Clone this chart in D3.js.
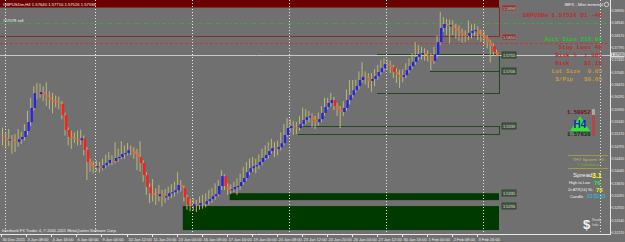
<!DOCTYPE html>
<html>
<head>
<meta charset="utf-8">
<script src="https://cdn.jsdelivr.net/npm/d3@7"></script>
<style>
html, body { margin: 0; padding: 0; background: #707070; overflow: hidden; }
svg { display: block; }
text { font-family: "Liberation Sans", Arial, sans-serif; }
.mono { font-family: "Liberation Mono", "DejaVu Sans Mono", monospace; font-weight: bold; }
</style>
</head>
<body>
<div id="chart"></div>
<script>
// GBPUSD H4 bars, 30 Dec 2011 .. 6 Feb 2012 (open = previous close)
const firstOpen = 1.5506;
const closes = [
  1.5502,1.5496,1.5499,1.5493,1.5491,1.5499,1.5506,1.5524,1.5551,1.5594,
  1.5639,1.5636,1.5642,1.5633,1.5627,1.5618,1.5615,1.5612,1.5606,1.5572,
  1.5527,1.5506,1.5502,1.5499,1.5496,1.5502,1.5466,1.5430,1.5420,1.5414,
  1.5417,1.5411,1.5420,1.5427,1.5436,1.5433,1.5442,1.5445,1.5454,1.5457,
  1.5466,1.5463,1.5454,1.5445,1.5427,1.5390,1.5354,1.5335,1.5329,1.5326,
  1.5332,1.5323,1.5326,1.5335,1.5338,1.5344,1.5360,1.5351,1.5323,1.5299,
  1.5296,1.5302,1.5299,1.5305,1.5302,1.5311,1.5317,1.5326,1.5332,1.5357,
  1.5387,1.5357,1.5344,1.5347,1.5354,1.5357,1.5369,1.5381,1.5399,1.5411,
  1.5417,1.5420,1.5430,1.5442,1.5451,1.5463,1.5472,1.5469,1.5475,1.5487,
  1.5512,1.5533,1.5539,1.5536,1.5533,1.5545,1.5557,1.5566,1.5569,1.5557,
  1.5551,1.5560,1.5579,1.5597,1.5609,1.5618,1.5600,1.5588,1.5582,1.5594,
  1.5618,1.5633,1.5648,1.5661,1.5679,1.5688,1.5685,1.5676,1.5682,1.5691,
  1.5703,1.5715,1.5727,1.5725,1.5718,1.5703,1.5694,1.5688,1.5694,1.5709,
  1.5721,1.5734,1.5749,1.5758,1.5761,1.5755,1.5752,1.5737,1.5755,1.5794,
  1.5837,1.5849,1.5843,1.5846,1.5837,1.5828,1.5822,1.5816,1.5813,1.5822,
  1.5828,1.5831,1.5819,1.5813,1.5806,1.5794,1.5782,1.5764,1.57536
];
const highs = [
  1.5534,1.5520,1.5530,1.5512,1.5515,1.5530,1.5522,1.5545,1.5585,1.5625,
  1.5660,1.5670,1.5668,1.5660,1.5672,1.5645,1.5640,1.5632,1.5628,1.5615,
  1.5580,1.5535,1.5525,1.5520,1.5525,1.5528,1.5510,1.5475,1.5440,1.5432,
  1.5435,1.5430,1.5440,1.5452,1.5460,1.5450,1.5490,1.5470,1.5493,1.5480,
  1.5488,1.5480,1.5475,1.5470,1.5493,1.5435,1.5400,1.5365,1.5378,1.5350,
  1.5360,1.5345,1.5348,1.5355,1.5362,1.5370,1.5399,1.5375,1.5358,1.5330,
  1.5318,1.5320,1.5315,1.5325,1.5330,1.5335,1.5345,1.5350,1.5365,1.5375,
  1.5405,1.5392,1.5365,1.5362,1.5370,1.5380,1.5395,1.5415,1.5430,1.5440,
  1.5445,1.5440,1.5452,1.5470,1.5480,1.5490,1.5500,1.5490,1.5495,1.5520,
  1.5545,1.5563,1.5560,1.5555,1.5552,1.5570,1.5595,1.5590,1.5585,1.5578,
  1.5570,1.5580,1.5600,1.5625,1.5625,1.5640,1.5628,1.5610,1.5600,1.5615,
  1.5650,1.5679,1.5679,1.5680,1.5705,1.5733,1.5705,1.5700,1.5700,1.5712,
  1.5725,1.5740,1.5745,1.5742,1.5738,1.5725,1.5715,1.5710,1.5712,1.5730,
  1.5745,1.5760,1.5794,1.5785,1.5780,1.5775,1.5770,1.5760,1.5780,1.5815,
  1.5886,1.5870,1.5865,1.5862,1.5860,1.5850,1.5845,1.5835,1.5830,1.5860,
  1.5848,1.5850,1.5842,1.5832,1.5828,1.5815,1.5800,1.5790,1.57710
];
const lows = [
  1.5480,1.5470,1.5478,1.5455,1.5460,1.5476,1.5485,1.5495,1.5512,1.5540,
  1.5585,1.5620,1.5625,1.5615,1.5600,1.5590,1.5578,1.5596,1.5590,1.5560,
  1.5510,1.5480,1.5470,1.5488,1.5480,1.5482,1.5450,1.5375,1.5400,1.5395,
  1.5402,1.5398,1.5404,1.5410,1.5418,1.5420,1.5425,1.5430,1.5438,1.5440,
  1.5450,1.5450,1.5440,1.5405,1.5400,1.5370,1.5330,1.5305,1.5310,1.5300,
  1.5310,1.5295,1.5306,1.5315,1.5320,1.5325,1.5335,1.5340,1.5310,1.5285,
  1.5280,1.5282,1.5278,1.5285,1.5288,1.5292,1.5300,1.5305,1.5315,1.5325,
  1.5345,1.5345,1.5330,1.5332,1.5338,1.5330,1.5345,1.5360,1.5372,1.5390,
  1.5400,1.5395,1.5408,1.5420,1.5435,1.5440,1.5455,1.5445,1.5450,1.5465,
  1.5480,1.5505,1.5520,1.5512,1.5515,1.5525,1.5538,1.5545,1.5550,1.5535,
  1.5530,1.5540,1.5550,1.5570,1.5590,1.5598,1.5588,1.5570,1.5533,1.5570,
  1.5585,1.5605,1.5625,1.5640,1.5650,1.5670,1.5665,1.5655,1.5642,1.5660,
  1.5680,1.5695,1.5705,1.5708,1.5700,1.5685,1.5670,1.5655,1.5672,1.5685,
  1.5700,1.5712,1.5725,1.5738,1.5742,1.5738,1.5735,1.5709,1.5728,1.5745,
  1.5785,1.5825,1.5815,1.5790,1.5815,1.5805,1.5798,1.5792,1.5795,1.5800,
  1.5805,1.5812,1.5800,1.5795,1.5788,1.5775,1.5732,1.5752,1.57526
];

const priceTicks = [1.52170,1.52545,1.52920,1.53295,1.53670,1.54045,1.54420,1.54795,1.55170,
  1.55545,1.55920,1.56295,1.56670,1.57045,1.57420,1.57795,1.58170,1.58545,1.58920];
const timeTickBars = [0,8,16,24,32,40,48,56,64,72,80,88,96,104,112,120,128,136,144,152];
const timeTickLabels = ["30 Dec 2011","3 Jan 08:00","4 Jan 16:00","6 Jan 00:00","9 Jan 04:00",
  "10 Jan 12:00","11 Jan 20:00","13 Jan 04:00","16 Jan 08:00","17 Jan 16:00","19 Jan 00:00",
  "20 Jan 08:00","23 Jan 12:00","24 Jan 20:00","26 Jan 04:00","27 Jan 12:00","30 Jan 16:00",
  "1 Feb 00:00","2 Feb 08:00","3 Feb 16:00"];
const weekStartBars = [1, 30, 61, 92, 123, 154];
const markerLineBar = 191;

// zones drawn by the system indicator
const filledZones = [
  { from: 0,  to: 158, hi: 1.5922, lo: 1.5898, kind: "red" },
  { from: 73, to: 158, hi: 1.5335, lo: 1.5314, kind: "green" },
  { from: 58, to: 158, hi: 1.5296, lo: 1.5223, kind: "green" }
];
const outlineZones = [
  { from: 0,   to: 158, hi: 1.5898, lo: 1.5810, kind: "red" },
  { from: 120, to: 158, hi: 1.5755, lo: 1.5639, kind: "green" },
  { from: 137, to: 158, hi: 1.5755, lo: 1.5706, kind: "green" },
  { from: 95,  to: 158, hi: 1.5539, lo: 1.5512, kind: "green" }
];
const levelTags = [
  { price: 1.5898, kind: "red" }, { price: 1.5810, kind: "red" },
  { price: 1.5755, kind: "green" }, { price: 1.5706, kind: "green" },
  { price: 1.5539, kind: "green" }, { price: 1.5335, kind: "green" },
  { price: 1.5296, kind: "green" }
];
const targetLine = 1.5852;
const stopLine = 1.5791;
const bid = 1.57536;

const W = 625, H = 242;
const plotRight = 610, plotBottom = 234;

const svg = d3.select("#chart").append("svg")
  .attr("width", W).attr("height", H);

svg.append("rect").attr("width", W).attr("height", H).attr("fill", "#707070");

const x = d3.scaleLinear().domain([0, 158]).range([3, 497]);
const y = d3.scaleLinear().domain([1.5199, 1.5922]).range([238, 0]);
const step = x(1) - x(0);

const plot = svg.append("g");

// filled zones
const zoneFill = { red: "#6a0202", green: "#013a01" };
plot.selectAll(".fz").data(filledZones).enter().append("rect")
  .attr("x", d => d.from === 0 ? 0 : x(d.from) - step / 2)
  .attr("y", d => y(d.hi))
  .attr("width", d => x(d.to) + 2 - (d.from === 0 ? 0 : x(d.from) - step / 2))
  .attr("height", d => y(d.lo) - y(d.hi))
  .attr("fill", d => zoneFill[d.kind]);

// outline zones (top, right and bottom edges)
const zoneLine = { red: "#8a2a2a", green: "#1f4a1f" };
outlineZones.forEach(z => {
  const x0 = z.from === 0 ? 0 : x(z.from) - step / 2, x1 = x(z.to) + 2;
  const p = d3.path();
  p.moveTo(x0, y(z.hi)); p.lineTo(x1, y(z.hi));
  p.lineTo(x1, y(z.lo)); p.lineTo(x0, y(z.lo));
  plot.append("path").attr("d", p.toString())
    .attr("fill", "none").attr("stroke", zoneLine[z.kind]).attr("stroke-width", 1)
    .attr("shape-rendering", "crispEdges");
});

// week separators
plot.selectAll(".sep").data(weekStartBars).enter().append("line")
  .attr("x1", d => Math.round(x(d) - step / 2) + 0.5)
  .attr("x2", d => Math.round(x(d) - step / 2) + 0.5)
  .attr("y1", 0).attr("y2", plotBottom)
  .attr("stroke", "#e8e8e8").attr("stroke-dasharray", "1,2");

plot.append("line")
  .attr("x1", Math.round(x(markerLineBar)) + 0.5).attr("x2", Math.round(x(markerLineBar)) + 0.5)
  .attr("y1", 0).attr("y2", plotBottom)
  .attr("stroke", "#e0e0e0").attr("stroke-dasharray", "1,2");

// order lines
plot.append("line").attr("x1", 0).attr("x2", plotRight)
  .attr("y1", Math.round(y(targetLine)) + 0.5).attr("y2", Math.round(y(targetLine)) + 0.5)
  .attr("stroke", "#3aa83a").attr("stroke-dasharray", "4,2,1,2");
plot.append("line").attr("x1", 0).attr("x2", plotRight)
  .attr("y1", Math.round(y(stopLine)) + 0.5).attr("y2", Math.round(y(stopLine)) + 0.5)
  .attr("stroke", "#c03838").attr("stroke-dasharray", "3,2");
plot.append("line").attr("x1", 0).attr("x2", plotRight)
  .attr("y1", Math.round(y(bid)) + 0.5).attr("y2", Math.round(y(bid)) + 0.5)
  .attr("stroke", "#c8c8c8");

// candles
const bars = closes.map((c, i) => ({
  i, o: i === 0 ? firstOpen : closes[i - 1], c, h: highs[i], l: lows[i]
}));
const candleColor = d => d.c >= d.o ? "#2222ee" : (d.o - d.c >= 0.0015 ? "#ff1c1c" : "#e4682e");

plot.selectAll(".wick").data(bars).enter().append("line")
  .attr("x1", d => x(d.i) - 0.5).attr("x2", d => x(d.i) - 0.5)
  .attr("y1", d => y(d.h)).attr("y2", d => y(d.l))
  .attr("stroke", "#bdb873").attr("stroke-width", 1);

plot.selectAll(".body").data(bars).enter().append("rect")
  .attr("x", d => x(d.i) - 0.7)
  .attr("y", d => y(Math.max(d.o, d.c)))
  .attr("width", 2.4)
  .attr("height", d => Math.max(1.2, Math.abs(y(d.o) - y(d.c))))
  .attr("fill", candleColor);

// level tags right of the last bar
const tagFill = { red: "#7a3c3c", green: "#4a5c48" };
const tagStroke = { red: "#a86464", green: "#223e22" };
const tags = plot.selectAll(".tag").data(levelTags).enter().append("g")
  .attr("transform", d => `translate(502,${Math.round(y(d.price)) - 3})`);
tags.append("rect").attr("width", 14).attr("height", 6)
  .attr("fill", d => tagFill[d.kind]).attr("stroke", d => tagStroke[d.kind]).attr("stroke-width", 0.8);
tags.append("text").attr("x", 7).attr("y", 4.6).attr("text-anchor", "middle")
  .attr("font-size", 4).attr("fill", "#d0d4cc").text(d => d.price.toFixed(4));

// frame
svg.append("line").attr("x1", plotRight + 0.5).attr("x2", plotRight + 0.5)
  .attr("y1", 0).attr("y2", plotBottom + 1).attr("stroke", "#e8e8e8");
svg.append("line").attr("x1", 0).attr("x2", plotRight + 1)
  .attr("y1", plotBottom + 0.5).attr("y2", plotBottom + 0.5).attr("stroke", "#e8e8e8");

// price axis, small enough to fit the strip left of the window edge
const yAxis = svg.append("g");
priceTicks.forEach(p => {
  const yy = Math.round(y(p)) + 0.5;
  yAxis.append("line").attr("x1", plotRight).attr("x2", plotRight + 1.5)
    .attr("y1", yy).attr("y2", yy).attr("stroke", "#e8e8e8");
  yAxis.append("text").attr("x", plotRight + 1.8).attr("y", yy + 1.3)
    .attr("font-size", 3.4).attr("fill", "#f0f0f0").text(p.toFixed(5));
});
const bidTag = svg.append("g").attr("transform", `translate(${plotRight + 1},${Math.round(y(bid)) - 2.5})`);
bidTag.append("rect").attr("width", 13.5).attr("height", 5).attr("fill", "#d8d8d8");
bidTag.append("text").attr("x", 0.6).attr("y", 3.8).attr("font-size", 3.4)
  .attr("fill", "#101010").text(bid.toFixed(5));

// time axis
const xAxis = svg.append("g");
timeTickBars.forEach((b, k) => {
  const xx = Math.round(x(b) - step / 2) + 0.5;
  xAxis.append("line").attr("x1", xx).attr("x2", xx)
    .attr("y1", plotBottom).attr("y2", plotBottom + 3).attr("stroke", "#e8e8e8");
  xAxis.append("text").attr("x", xx + 1).attr("y", 240.5)
    .attr("font-size", 4).attr("fill", "#f0f0f0").text(timeTickLabels[k]);
});

// chart texts
svg.append("text").attr("x", 3).attr("y", 6).attr("font-size", 4.2).attr("fill", "#f0f0f0")
  .text("GBPUSDm,H4  1.57640 1.57710 1.57526 1.57536");
svg.append("text").attr("x", 3).attr("y", 22).attr("font-size", 4).attr("fill", "#f0f0f0")
  .text("#57078 sell");
svg.append("text").attr("x", 2).attr("y", 232).attr("font-size", 4).attr("fill", "#f0f0f0")
  .text("Interbank FX Trader 4, © 2001-2011 MetaQuotes Software Corp.");

// mini terminal panel
svg.append("text").attr("x", 603).attr("y", 6).attr("text-anchor", "end")
  .attr("font-size", 4.4).attr("fill", "#f0f0f0").text("IBFX - Mini terminal");
svg.append("circle").attr("cx", 606.5).attr("cy", 4.5).attr("r", 2.2)
  .attr("fill", "none").attr("stroke", "#f0f0f0").attr("stroke-width", 0.7);

const panelRows = [
  { text: "GBPUSDm 1.57536 D1 -46", color: "#c82828", yy: 17 },
  { text: "Acct Size 218.09", color: "#22c822", yy: 41 },
  { text: "Stop Loss 40", color: "#c82828", yy: 49 },
  { text: "Risk %  1.00%", color: "#c82828", yy: 57 },
  { text: "Risk    $2.18", color: "#c82828", yy: 65 },
  { text: "Lot Size  0.05", color: "#c89a3a", yy: 73 },
  { text: "$/Pip   $0.05", color: "#c89a3a", yy: 81 }
];
svg.selectAll(".prow").data(panelRows).enter().append("text")
  .attr("class", "mono").attr("x", 602).attr("y", d => d.yy)
  .attr("text-anchor", "end").attr("font-size", 6).attr("fill", d => d.color)
  .attr("xml:space", "preserve").text(d => d.text);

// H4 signal block
svg.append("text").attr("class", "mono").attr("x", 567).attr("y", 114)
  .attr("font-size", 5.6).attr("fill", "#6a1010").text("1.58052");
svg.append("path").attr("d", "M580,116 L570,131 L590,131 Z").attr("fill", "#2ee82e");
svg.append("text").attr("x", 580).attr("y", 128).attr("text-anchor", "middle")
  .attr("font-size", 10).attr("font-weight", "bold").attr("fill", "#1a22c0").text("H4");
svg.append("text").attr("class", "mono").attr("x", 567).attr("y", 136)
  .attr("font-size", 5.6).attr("fill", "#062a06").text("1.57636");
svg.append("rect").attr("x", 592).attr("y", 109).attr("width", 3).attr("height", 6).attr("fill", "#a8a8a8");
svg.append("rect").attr("x", 592).attr("y", 115).attr("width", 3).attr("height", 21).attr("fill", "#b84444");

// system info block
svg.append("line").attr("x1", 568).attr("x2", 608).attr("y1", 155.5).attr("y2", 155.5).attr("stroke", "#a09848");
svg.append("line").attr("x1", 568).attr("x2", 608).attr("y1", 168.5).attr("y2", 168.5).attr("stroke", "#a09848");
svg.append("text").attr("x", 588).attr("y", 160.5).attr("text-anchor", "middle")
  .attr("font-size", 4.4).attr("fill", "#c8b848").text("THV System V3");
svg.append("text").attr("x", 588).attr("y", 166).attr("text-anchor", "middle")
  .attr("font-size", 3.8).attr("fill", "#7ab040").text("© Cobraforex");

svg.append("text").attr("x", 573).attr("y", 177).attr("font-size", 6).attr("fill", "#f0f0f0").text("Spread");
svg.append("text").attr("x", 592).attr("y", 177.5).attr("font-size", 7).attr("font-weight", "bold")
  .attr("fill", "#ffff20").text("3.1");
svg.append("text").attr("x", 569).attr("y", 184).attr("font-size", 4).attr("fill", "#f0f0f0").text("High to Low");
svg.append("text").attr("x", 594).attr("y", 184.5).attr("font-size", 6).attr("font-weight", "bold")
  .attr("fill", "#38e038").text("76");
svg.append("text").attr("x", 568).attr("y", 191).attr("font-size", 3.8).attr("fill", "#f0f0f0").text("2x ATR(14) SL:");
svg.append("text").attr("x", 596).attr("y", 191.5).attr("font-size", 6).attr("font-weight", "bold")
  .attr("fill", "#f0e020").text("78");
svg.append("text").attr("x", 570).attr("y", 198).attr("font-size", 4.2).attr("fill", "#f0f0f0").text("Candle");
svg.append("text").attr("x", 587).attr("y", 198).attr("font-size", 4.8).attr("fill", "#20c8f0").text("02:52:33");

svg.append("text").attr("x", 583).attr("y", 229).attr("font-size", 13).attr("font-weight", "bold")
  .attr("fill", "#f4f4f4").text("$");
svg.append("text").attr("x", 592).attr("y", 221).attr("font-size", 3.2).attr("fill", "#d8d8d8").text("Ready");
svg.append("text").attr("x", 592).attr("y", 226).attr("font-size", 3.2).attr("fill", "#d8d8d8").text("Indic.");
</script>
</body>
</html>
